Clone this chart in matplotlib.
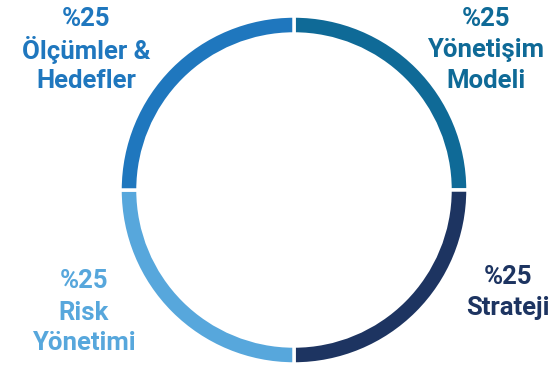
import matplotlib.pyplot as plt

labels = [["Yönetişim", "Modeli"], ["Strateji"], ["Risk", "Yönetimi"], ["Ölçümler &", "Hedefler"]]
shares = [25, 25, 25, 25]
colors = ["#0f6a97", "#1d3461", "#57a7dc", "#1f77be"]

# x centre and y of the first line (pixels from top) for each label block
label_pos = [(486, 16), (508, 275), (84, 279), (86, 17)]
line_gap = 31

W, H = 553, 368
fig = plt.figure(figsize=(W / 100, H / 100), dpi=100)
ax = fig.add_axes([0, 0, 1, 1])

cx, cy = 294, H - 190
ax.pie(shares, colors=colors, startangle=90, counterclock=False,
       center=(cx, cy), radius=174, frame=True,
       wedgeprops=dict(width=18, edgecolor="white", linewidth=2.5))

for lines, val, col, (x, y) in zip(labels, shares, colors, label_pos):
    for i, s in enumerate([f"%{val}"] + lines):
        ax.text(x, H - (y + i * line_gap), s, color=col, ha="center",
                va="center_baseline", fontsize=18.5, fontfamily="Roboto",
                fontweight="bold")

ax.set_xlim(0, W)
ax.set_ylim(0, H)
ax.set_aspect("equal")
ax.axis("off")
fig.savefig("out.png", dpi=100)
